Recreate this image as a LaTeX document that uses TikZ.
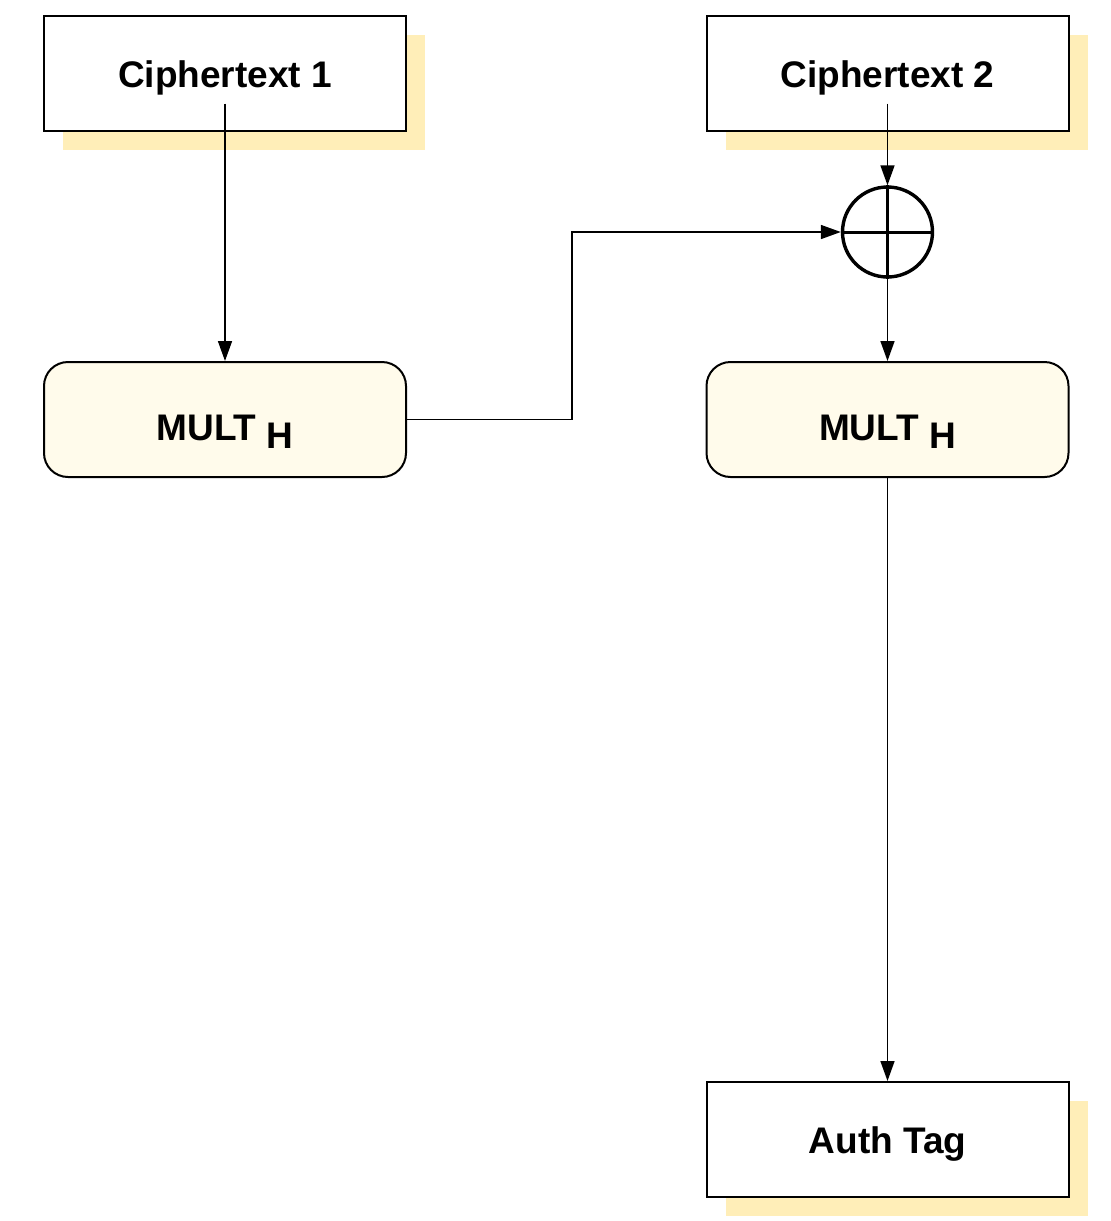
\documentclass[tikz,border=0pt]{standalone}
\usepackage{fontspec}
\setmainfont{Liberation Sans}
\usetikzlibrary{arrows.meta,shadows}

\definecolor{shadeyellow}{RGB}{255,238,184}
\definecolor{multfill}{RGB}{255,251,235}

\tikzset{
  block/.style={draw, line width=1pt, fill=white, minimum width=181pt, minimum height=57.5pt,
    text height=13.5pt, text depth=0pt,
    font=\bfseries\fontsize{18.5}{22}\selectfont,
    general shadow={fill=shadeyellow, shadow xshift=9.5pt, shadow yshift=-9.5pt}},
  multbox/.style={draw, line width=1pt, fill=multfill, rounded corners=12pt,
    text height=24.5pt, text depth=4pt,
    minimum width=181pt, minimum height=57.5pt, font=\bfseries\fontsize{18.5}{22}\selectfont},
  link/.style={line width=0.8pt, -{Triangle[length=10pt,width=7pt]}},
}

\begin{document}
\begin{tikzpicture}[x=0.5pt,y=-0.5pt]
  \useasboundingbox (0,0) rectangle (1110,1221);
  % inputs
  \node[block] (c1) at (225,73.5) {Ciphertext 1};
  \node[block] (c2) at (887.5,73.5) {Ciphertext 2};
  % multiply by H
  \node[multbox] (m1) at (225,419.5) {MULT \raisebox{-4pt}{H}};
  \node[multbox] (m2) at (887.5,419.5) {MULT \raisebox{-4pt}{H}};
  \node[block] (tag) at (887.5,1139.5) {Auth Tag};
  % xor
  \node[circle, draw, line width=1.7pt, minimum size=45pt, inner sep=0pt] (xor) at (887.5,232) {};
  \draw[line width=1.5pt] (xor.north) -- (xor.south) (xor.west) -- (xor.east);

  \draw[link] ([yshift=-15pt]c1.center) -- (m1.north);
  \draw[link] ([yshift=-15pt]c2.center) -- (xor.north);
  \draw[link] (m1.east) -- ++(165,0) |- (xor.west);
  \draw[link] (xor.south) -- (m2.north);
  \draw[link] (m2.south) -- (tag.north);
\end{tikzpicture}
\end{document}
